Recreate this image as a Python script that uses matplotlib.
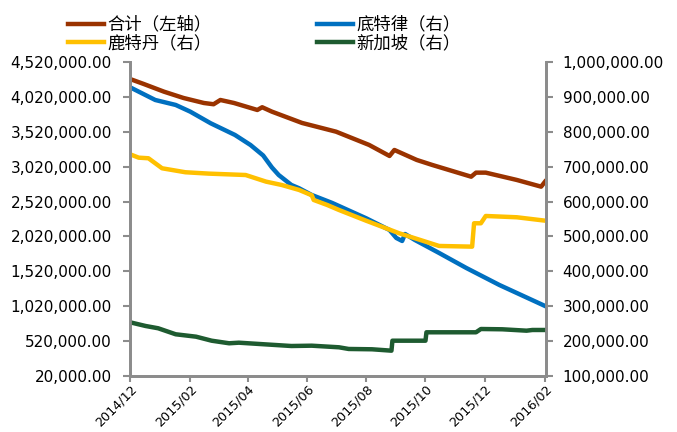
import matplotlib
matplotlib.use("Agg")
import matplotlib.pyplot as plt
import matplotlib.dates as mdates
from matplotlib.ticker import FuncFormatter, FixedLocator, MultipleLocator
import pandas as pd

plt.rcParams['font.family'] = ['DejaVu Sans', 'Noto Sans CJK SC']

# left axis ticks (Excel-style, starting at 20,000)
left_ticks = [20000, 520000, 1020000, 1520000, 2020000, 2520000,
              3020000, 3520000, 4020000, 4520000]

# 合计 (left axis)
total_dates = ['2014-12-01', '2014-12-15', '2015-01-05', '2015-01-25', '2015-02-15',
               '2015-02-25', '2015-03-04', '2015-03-18', '2015-04-11', '2015-04-16',
               '2015-04-26', '2015-05-27', '2015-07-01', '2015-08-04', '2015-08-25',
               '2015-08-30', '2015-09-22', '2015-10-08', '2015-11-17', '2015-11-22',
               '2015-12-02', '2016-01-03', '2016-01-28', '2016-02-01']
total_vals = [4276000, 4205000, 4094000, 4004000, 3932000,
              3914000, 3975000, 3932000, 3832000, 3871000,
              3808000, 3646000, 3521000, 3331000, 3173000,
              3259000, 3116000, 3044000, 2876000, 2934000,
              2934000, 2829000, 2733000, 2805000]

# 底特律 (right axis)
detroit_dates = ['2014-12-01', '2014-12-27', '2015-01-17', '2015-02-01', '2015-02-22',
                 '2015-03-19', '2015-04-04', '2015-04-17', '2015-04-26', '2015-05-03',
                 '2015-05-16', '2015-05-24', '2015-06-06', '2015-06-27', '2015-08-01',
                 '2015-08-25', '2015-09-01', '2015-09-07', '2015-09-10', '2015-09-20',
                 '2015-10-15', '2015-11-12', '2015-12-16', '2016-02-01']
detroit_vals = [927500, 891000, 876800, 857600, 824300,
                790800, 762000, 732000, 697700, 676000,
                647500, 638000, 618800, 596000, 552000,
                518500, 495600, 487000, 507000, 490000,
                452600, 409600, 360900, 300700]

# 鹿特丹 (right axis)
rotterdam_dates = ['2014-12-01', '2014-12-10', '2014-12-20', '2015-01-03', '2015-01-27',
                   '2015-02-20', '2015-03-30', '2015-04-20', '2015-05-06', '2015-05-24',
                   '2015-06-06', '2015-06-08', '2015-06-22', '2015-07-04', '2015-08-01',
                   '2015-09-04', '2015-10-15', '2015-11-18', '2015-11-20', '2015-11-27',
                   '2015-12-02', '2016-01-03', '2016-02-01']
rotterdam_vals = [735500, 725700, 724000, 695300, 683900,
                  680000, 676000, 657000, 647500, 633200,
                  618000, 604500, 590000, 575800, 545000,
                  509000, 472700, 470700, 537700, 537700,
                  558600, 554900, 545200]

# 新加坡 (right axis)
singapore_dates = ['2014-12-01', '2014-12-17', '2014-12-30', '2015-01-17', '2015-02-07',
                   '2015-02-23', '2015-03-13', '2015-03-23', '2015-04-13', '2015-05-16',
                   '2015-06-06', '2015-07-04', '2015-07-14', '2015-08-07', '2015-08-27',
                   '2015-08-28', '2015-10-01', '2015-10-02', '2015-11-22', '2015-11-27',
                   '2015-12-19', '2016-01-13', '2016-01-19', '2016-02-01']
singapore_vals = [254000, 243400, 236800, 219600, 212700,
                  201200, 193800, 195500, 191800, 186000,
                  186900, 182300, 177500, 176600, 172600,
                  201200, 201200, 225300, 225300, 234700,
                  233900, 229900, 231900, 231900]

fig = plt.figure(figsize=(6.77, 4.32), dpi=100)
ax = fig.add_axes([0.192, 0.1296, 0.6145, 0.727])
ax2 = ax.twinx()

lw = 3.2
l1, = ax.plot(pd.to_datetime(total_dates), total_vals, color='#9A3300', lw=lw)
l2, = ax2.plot(pd.to_datetime(detroit_dates), detroit_vals, color='#0070C0', lw=lw)
l3, = ax2.plot(pd.to_datetime(rotterdam_dates), rotterdam_vals, color='#FFC000', lw=lw)
l4, = ax2.plot(pd.to_datetime(singapore_dates), singapore_vals, color='#1E5B30', lw=lw)

ax.set_ylim(left_ticks[0], left_ticks[-1])
ax.yaxis.set_major_locator(FixedLocator(left_ticks))
ax2.set_ylim(100000, 1000000)
ax2.yaxis.set_major_locator(MultipleLocator(100000))
fmt = FuncFormatter(lambda v, p: '{:,.2f}'.format(v))
ax.yaxis.set_major_formatter(fmt)
ax2.yaxis.set_major_formatter(fmt)

ax.set_xlim(pd.Timestamp('2014-12-01'), pd.Timestamp('2016-02-02'))
ax.xaxis.set_major_locator(mdates.MonthLocator(bymonth=[2, 4, 6, 8, 10, 12]))
ax.xaxis.set_major_formatter(mdates.DateFormatter('%Y/%m'))

spine_c = '#8C8C8C'
for a in (ax, ax2):
    a.spines['top'].set_visible(False)
    for s in ('left', 'right', 'bottom'):
        a.spines[s].set_color(spine_c)
        a.spines[s].set_linewidth(2)
    a.tick_params(colors=spine_c, width=1.5, length=5, labelcolor='black')
ax.tick_params(axis='y', labelsize=11, pad=8)
ax2.tick_params(axis='y', labelsize=11, pad=7)
ax.tick_params(axis='x', labelsize=9.2, pad=1, length=4)
for lab in ax.get_xticklabels():
    lab.set_rotation(45)
    lab.set_ha('right')
    lab.set_rotation_mode('anchor')

fig.legend([l1, l3, l2, l4],
           ['合计（左轴）', '鹿特丹（右）', '底特律（右）', '新加坡（右）'],
           ncol=2, loc='upper left', bbox_to_anchor=(0.0895, 0.98), frameon=False,
           prop={'family': ['Noto Sans CJK SC'], 'size': 12.5},
           handlelength=2.1, handletextpad=0.2, columnspacing=6.05,
           labelspacing=0.05, borderaxespad=0)

fig.savefig('out.png', dpi=100)
